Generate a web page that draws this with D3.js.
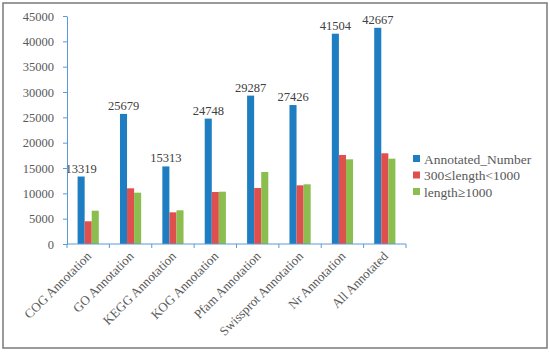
<!DOCTYPE html>
<html>
<head>
<meta charset="utf-8">
<script src="https://cdn.jsdelivr.net/npm/d3@7"></script>
<style>
  body { margin: 0; background: #fff; }
</style>
</head>
<body>
<div id="chart"></div>
<script>
// data
const categories = ["COG Annotation", "GO Annotation", "KEGG Annotation", "KOG Annotation",
  "Pfam Annotation", "Swissprot Annotation", "Nr Annotation", "All Annotated"];
const seriesNames = ["Annotated_Number", "300≤length<1000", "length≥1000"];
const annotated = [13319, 25679, 15313, 24748, 29287, 27426, 41504, 42667];
const mid = [4480, 10990, 6250, 10260, 11050, 11580, 17570, 17900];
const longer = [6570, 10130, 6650, 10320, 14210, 11780, 16710, 16840];
const yTicks = [0, 5000, 10000, 15000, 20000, 25000, 30000, 35000, 40000, 45000];

const colors = ["#1f7dc2", "#df4f4d", "#8cbd4f"];
const series = [annotated, mid, longer];
const serif = "'Liberation Serif', 'Times New Roman', serif";

const W = 550, H = 353;
const margin = { top: 16, left: 67 };
const plotW = 339, plotH = 228;

const svg = d3.select("#chart").append("svg")
  .attr("width", W).attr("height", H)
  .attr("font-family", serif);

// outer frame
svg.append("rect")
  .attr("x", 3).attr("y", 3).attr("width", 544).attr("height", 345)
  .attr("fill", "none").attr("stroke", "#7a7a7a").attr("stroke-width", 1.5);

const g = svg.append("g").attr("transform", `translate(${margin.left},${margin.top})`);

const x = d3.scaleBand().domain(categories).range([0, plotW]);
const x1 = d3.scaleBand().domain(d3.range(3)).range([x.bandwidth() / 4, x.bandwidth() * 3 / 4]);
const y = d3.scaleLinear().domain([0, 45000]).range([plotH, 0]);

// bars
series.forEach((vals, si) => {
  g.selectAll(".bar" + si)
    .data(vals)
    .join("rect")
    .attr("class", "bar" + si)
    .attr("x", (d, i) => x(categories[i]) + x1(si))
    .attr("y", d => y(d))
    .attr("width", x1.bandwidth())
    .attr("height", d => plotH - y(d))
    .attr("fill", colors[si]);
});

// value labels on the first series
g.selectAll(".vlabel")
  .data(annotated)
  .join("text")
  .attr("class", "vlabel")
  .attr("x", (d, i) => x(categories[i]) + x1(0) + x1.bandwidth() / 2)
  .attr("y", d => y(d) - 4)
  .attr("text-anchor", "middle")
  .style("font-family", serif)
  .style("font-size", "12.5px")
  .attr("fill", "#404040")
  .text(d => d);

// y axis
const yAxis = g.append("g")
  .call(d3.axisLeft(y).tickValues(yTicks).tickFormat(d3.format("d"))
    .tickSize(4).tickSizeOuter(0).tickPadding(9));
yAxis.selectAll("line, path").attr("stroke", "#5b9bd5");
yAxis.selectAll("text")
  .style("font-family", serif)
  .style("font-size", "12.5px")
  .attr("fill", "#595959");

// x axis with ticks at category boundaries
const xAxisG = g.append("g").attr("transform", `translate(0,${plotH})`);
xAxisG.append("line")
  .attr("x1", 0).attr("x2", plotW).attr("stroke", "#5b9bd5");
xAxisG.selectAll(".xt")
  .data(d3.range(categories.length + 1))
  .join("line")
  .attr("class", "xt")
  .attr("x1", d => d * x.bandwidth())
  .attr("x2", d => d * x.bandwidth())
  .attr("y1", 0).attr("y2", 4)
  .attr("stroke", "#5b9bd5");
xAxisG.selectAll(".xl")
  .data(categories)
  .join("text")
  .attr("class", "xl")
  .attr("transform", d => `translate(${x(d) + x.bandwidth() / 2 + 4},${13}) rotate(-45)`)
  .attr("text-anchor", "end")
  .style("font-family", serif)
  .style("font-size", "13px")
  .attr("fill", "#595959")
  .text(d => d);

// legend
const legend = svg.append("g").attr("transform", "translate(413,159)");
seriesNames.forEach((name, i) => {
  const row = legend.append("g").attr("transform", `translate(0,${i * 16.5})`);
  row.append("rect").attr("x", 0).attr("y", -4).attr("width", 7).attr("height", 7).attr("fill", colors[i]);
  row.append("text").attr("x", 11).attr("y", 4.5)
    .style("font-family", serif)
    .style("font-size", "13.5px")
    .attr("fill", "#595959")
    .text(name);
});
</script>
</body>
</html>
